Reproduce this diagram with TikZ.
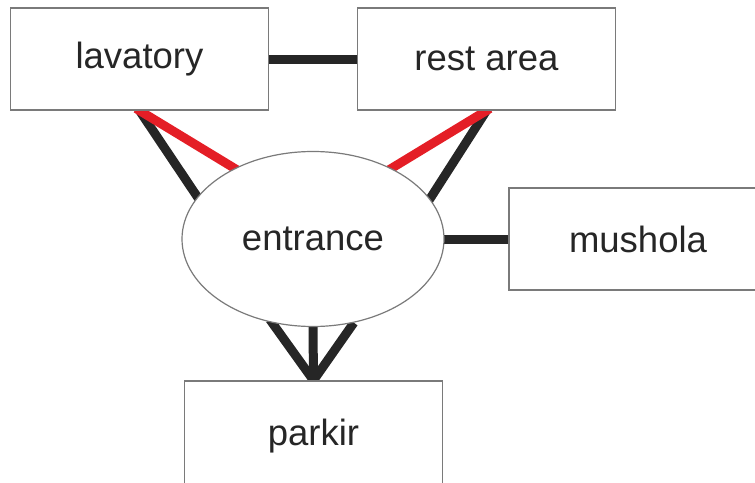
\documentclass[tikz,border=0pt]{standalone}
\usepackage{fontspec}
\setmainfont{Liberation Sans}
\usetikzlibrary{shapes.geometric,backgrounds}
\definecolor{boxline}{HTML}{7A7A7A}
\definecolor{txt}{HTML}{262626}
\definecolor{linkdark}{HTML}{262626}
\definecolor{linkred}{HTML}{E41E26}
\tikzset{
  place/.style={draw=boxline, line width=1.2pt, fill=white, inner sep=0pt,
    text=txt, font=\fontsize{36.5}{40}\selectfont},
  room/.style={place, rectangle, minimum width=258pt, minimum height=102pt},
  hall/.style={place, ellipse, minimum width=262pt, minimum height=175pt},
  link/.style={line width=9pt, draw=linkdark, shorten <=-4pt, shorten >=-4pt},
  redlink/.style={link, draw=linkred}
}
\begin{document}
\begin{tikzpicture}[x=1pt, y=-1pt]
  \useasboundingbox (0,0) rectangle (755,482);
  % rooms
  \node[room] (lav) at (139.5,59) {lavatory};
  \node[room] (rest) at (486.5,59) {rest area};
  \node[room] (mus) at (638,239) {mushola};
  \node[room, minimum height=116pt, text depth=14pt] (park) at (313.5,439) {parkir};
  \node[hall] (ent) at (313,239) {entrance};
  % connections, kept behind the shapes
  \begin{pgfonlayer}{background}
    \draw[link] (lav.east) -- (rest.west);
    \draw[link] (ent.east) -- (mus.west);
    \draw[link] (lav.south) -- (ent.160.6);
    \draw[redlink] (lav.south) -- (ent.138.6);
    \draw[link] (rest.south) -- (ent.19.2);
    \draw[redlink] (rest.south) -- (ent.42.2);
    \draw[link, shorten >=0pt, line join=round] (ent.244) -- (park.north) -- (ent.296.6);
    \draw[link, shorten >=0pt] (ent.south) -- (park.north);
  \end{pgfonlayer}
\end{tikzpicture}
\end{document}
